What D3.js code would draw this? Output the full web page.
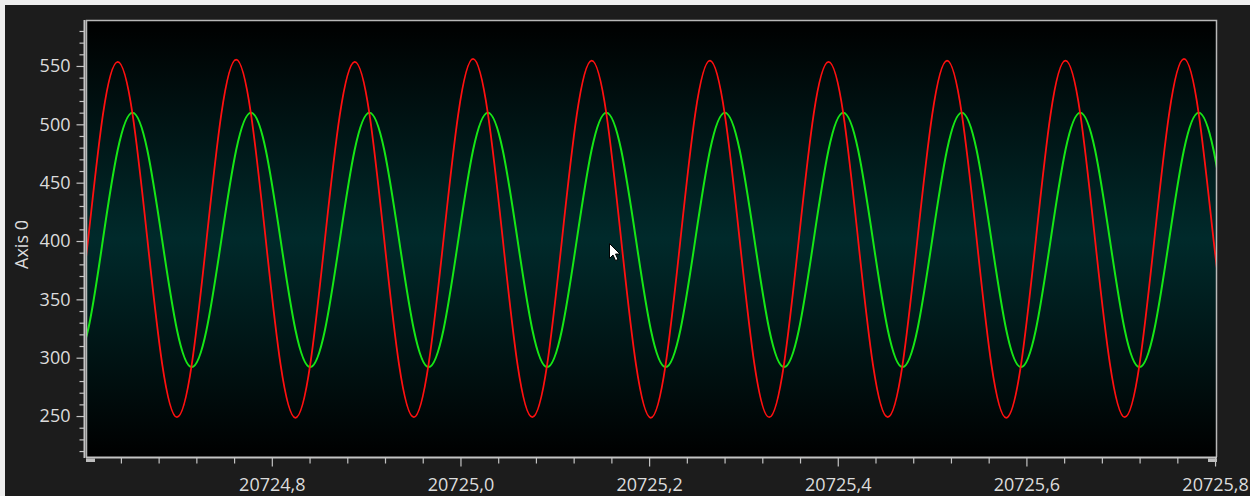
<!DOCTYPE html>
<html>
<head>
<meta charset="utf-8">
<script src="https://cdn.jsdelivr.net/npm/d3@7"></script>
<style>
  html, body { margin: 0; padding: 0; background: #1c1c1c; }
  svg { display: block; }
</style>
</head>
<body>
<svg id="chart" width="1250" height="496"></svg>
<script>
// Sample times (s) shared by both channels
const times = [
  20724.5895, 20724.6052, 20724.6209, 20724.6366, 20724.6523, 20724.6680, 20724.6837, 20724.6994,
  20724.7151, 20724.7308, 20724.7465, 20724.7622, 20724.7779, 20724.7936, 20724.8093, 20724.8250,
  20724.8407, 20724.8564, 20724.8721, 20724.8878, 20724.9035, 20724.9192, 20724.9349, 20724.9506,
  20724.9663, 20724.9820, 20724.9977, 20725.0134, 20725.0291, 20725.0448, 20725.0605, 20725.0762,
  20725.0919, 20725.1076, 20725.1233, 20725.1390, 20725.1547, 20725.1704, 20725.1861, 20725.2018,
  20725.2175, 20725.2332, 20725.2489, 20725.2646, 20725.2803, 20725.2960, 20725.3117, 20725.3274,
  20725.3431, 20725.3588, 20725.3745, 20725.3902, 20725.4059, 20725.4216, 20725.4373, 20725.4530,
  20725.4687, 20725.4844, 20725.5001, 20725.5158, 20725.5315, 20725.5472, 20725.5629, 20725.5786,
  20725.5943, 20725.6100, 20725.6257, 20725.6414, 20725.6571, 20725.6728, 20725.6885, 20725.7042,
  20725.7199, 20725.7356, 20725.7513, 20725.7670, 20725.7827, 20725.7984, 20725.8141
];

// Channel 1 (red)
const channel1 = [
  294, 401, 508, 553.5, 509, 402, 295, 249,
  294, 401, 509, 555.5, 509, 401, 294, 248.5,
  294, 402, 508, 553.5, 509, 401, 294, 249,
  295, 401, 509, 556, 509, 402, 294, 249,
  294, 401, 508, 554.5, 509, 401, 294, 248.5,
  294, 401, 509, 554.5, 508, 401, 294, 249,
  295, 402, 509, 553.5, 509, 401, 294, 249,
  294, 401, 508, 554.5, 509, 402, 294, 248.5,
  294, 401, 509, 554.5, 509, 401, 295, 249,
  294, 401, 509, 556, 509, 401, 294
];

// Channel 2 (green)
const channel2 = [
  292, 324, 401, 478, 510, 478, 401, 324,
  292, 324, 401, 478, 510, 478, 401, 324,
  292, 324, 401, 478, 510, 478, 401, 324,
  292, 324, 401, 478, 510, 478, 401, 324,
  292, 324, 401, 478, 510, 478, 401, 324,
  292, 324, 401, 478, 510, 478, 401, 324,
  292, 324, 401, 478, 510, 478, 401, 324,
  292, 324, 401, 478, 510, 478, 401, 324,
  292, 324, 401, 478, 510, 478, 401, 324,
  292, 324, 401, 478, 510, 478, 401
];

const xMajorTicks = [20724.8, 20725.0, 20725.2, 20725.4, 20725.6, 20725.8];
const xTickLabels = ["20724,8", "20725,0", "20725,2", "20725,4", "20725,6", "20725,8"];
const yMajorTicks = [250, 300, 350, 400, 450, 500, 550];
const yTickLabels = ["250", "300", "350", "400", "450", "500", "550"];
const yAxisTitle = "Axis 0";

const plot = { left: 86, top: 20, right: 1216, bottom: 457 };
const svg = d3.select("#chart");
const textColor = "#dcdcdc";
const axisColor = "#c4c4c4";
const font = "'Open Sans', 'Segoe UI', sans-serif";
const fontSize = 18;

// window frame edges
svg.append("rect").attr("x", 0).attr("y", 0).attr("width", 1250).attr("height", 496).attr("fill", "#1c1c1c");
svg.append("rect").attr("x", 0).attr("y", 0).attr("width", 1250).attr("height", 5).attr("fill", "#eeeeee");
svg.append("rect").attr("x", 0).attr("y", 0).attr("width", 5).attr("height", 496).attr("fill", "#eeeeee");

const x = d3.scaleLinear().domain([20724.603, 20725.801]).range([plot.left, plot.right]);
const y = d3.scaleLinear().domain([214.9, 589.4]).range([plot.bottom, plot.top]);

// plot background gradient
const defs = svg.append("defs");
const grad = defs.append("linearGradient").attr("id", "bg").attr("x1", 0).attr("y1", 0).attr("x2", 0).attr("y2", 1);
grad.append("stop").attr("offset", "0%").attr("stop-color", "#000000");
grad.append("stop").attr("offset", "50%").attr("stop-color", "#002a2b");
grad.append("stop").attr("offset", "100%").attr("stop-color", "#000000");

defs.append("clipPath").attr("id", "clip")
  .append("rect")
  .attr("x", plot.left).attr("y", plot.top)
  .attr("width", plot.right - plot.left).attr("height", plot.bottom - plot.top);

svg.append("rect")
  .attr("x", plot.left).attr("y", plot.top)
  .attr("width", plot.right - plot.left).attr("height", plot.bottom - plot.top)
  .attr("fill", "url(#bg)");

// signal traces
const line = (vals) => d3.line()
  .x((d, i) => x(times[i]))
  .y(d => y(d))
  .curve(d3.curveNatural)(vals);

const traces = svg.append("g").attr("clip-path", "url(#clip)");
traces.append("path").attr("d", line(channel2))
  .attr("fill", "none").attr("stroke", "#16e616").attr("stroke-width", 2);
traces.append("path").attr("d", line(channel1))
  .attr("fill", "none").attr("stroke", "#ff1010").attr("stroke-width", 1.8);

// plot frame
svg.append("path")
  .attr("d", `M${plot.left + 0.5},${plot.bottom} V${plot.top + 0.5} H${plot.right + 0.5} V${plot.bottom}`)
  .attr("fill", "none").attr("stroke", "#b8b8b8").attr("stroke-width", 1.5);

// x axis
const xMinor = d3.range(0, 40).map(i => +(20724.6 + i * 0.04).toFixed(2))
  .filter(v => v > 20724.61 && v < 20725.81 && !xMajorTicks.some(m => Math.abs(m - v) < 1e-6));

const xAxisMinor = svg.append("g").attr("transform", `translate(0,${plot.bottom + 0.5})`)
  .call(d3.axisBottom(x).tickValues(xMinor).tickSize(6).tickFormat(""));
const xAxisMajor = svg.append("g").attr("transform", `translate(0,${plot.bottom + 0.5})`)
  .call(d3.axisBottom(x).tickValues(xMajorTicks).tickSize(9).tickPadding(12)
    .tickFormat((d, i) => xTickLabels[i]));

[xAxisMinor, xAxisMajor].forEach(g => {
  g.select(".domain").remove();
  g.selectAll("line").attr("stroke", axisColor).attr("stroke-width", 1.2);
});
xAxisMajor.selectAll("text")
  .attr("fill", textColor).attr("font-family", font).attr("font-size", fontSize);

svg.append("line")
  .attr("x1", plot.left).attr("x2", plot.right + 1)
  .attr("y1", plot.bottom + 0.5).attr("y2", plot.bottom + 0.5)
  .attr("stroke", axisColor).attr("stroke-width", 2);

// y axis
const yMinor = d3.range(22, 59).map(i => i * 10).filter(v => v % 50 !== 0);
const yAxisMinor = svg.append("g").attr("transform", `translate(${plot.left - 1.5},0)`)
  .call(d3.axisLeft(y).tickValues(yMinor).tickSize(5).tickFormat(""));
const yAxisMajor = svg.append("g").attr("transform", `translate(${plot.left - 1.5},0)`)
  .call(d3.axisLeft(y).tickValues(yMajorTicks).tickSize(8).tickPadding(6)
    .tickFormat((d, i) => yTickLabels[i]));
[yAxisMinor, yAxisMajor].forEach(g => {
  g.select(".domain").remove();
  g.selectAll("line").attr("stroke", axisColor).attr("stroke-width", 1.2);
});
yAxisMajor.selectAll("text")
  .attr("fill", textColor).attr("font-family", font).attr("font-size", fontSize);

svg.append("line")
  .attr("x1", plot.left - 1.5).attr("x2", plot.left - 1.5)
  .attr("y1", plot.top).attr("y2", plot.bottom + 1)
  .attr("stroke", axisColor).attr("stroke-width", 2);

// scroll grips at the ends of the time axis
svg.append("rect").attr("x", plot.left).attr("y", plot.bottom + 1.5).attr("width", 9).attr("height", 3.5).attr("fill", "#bdbdbd");
svg.append("rect").attr("x", plot.right - 8).attr("y", plot.bottom + 1.5).attr("width", 9).attr("height", 3.5).attr("fill", "#bdbdbd");

// axis title
svg.append("text")
  .attr("transform", `translate(28,${(plot.top + plot.bottom) / 2 + 6}) rotate(-90)`)
  .attr("text-anchor", "middle")
  .attr("fill", textColor).attr("font-family", font).attr("font-size", fontSize)
  .text(yAxisTitle);

// mouse pointer
svg.append("path")
  .attr("transform", "translate(609.5,243.5)")
  .attr("d", "M0,0 L0,15 L3.5,11.5 L6,17 L8.5,16 L6,10.5 L10.5,10.5 Z")
  .attr("fill", "#ffffff").attr("stroke", "#000000").attr("stroke-width", 1);
</script>
</body>
</html>
